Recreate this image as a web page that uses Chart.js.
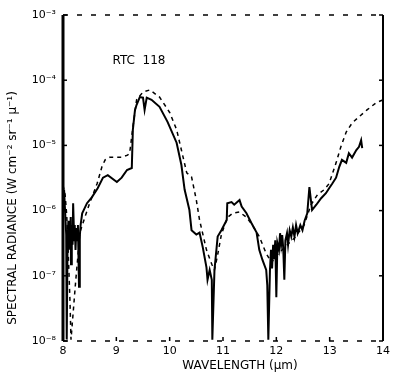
<!DOCTYPE html>
<html>
<head>
<meta charset="utf-8">
<script src="https://cdn.jsdelivr.net/npm/chart.js@4.4.0/dist/chart.umd.min.js"></script>
<style>
    html, body { margin: 0; padding: 0; background: #fff; }
    #wrap { width: 394px; height: 378px; }
</style>
</head>
<body>
<div id="wrap"><canvas id="chart" width="394" height="378"></canvas></div>
<script>
// --- DATOS ---
const solidWavelength = [8.02, 8.06, 8.07, 8.085, 8.10, 8.11, 8.12, 8.13, 8.145, 8.15, 8.165, 8.18, 8.19, 8.21, 8.22, 8.235, 8.25, 8.27, 8.28, 8.30, 8.315, 8.33, 8.36,
    8.45, 8.54, 8.65, 8.75, 8.84,
    9.01, 9.10, 9.20, 9.29, 9.31, 9.35, 9.38, 9.44, 9.50, 9.53, 9.57, 9.66, 9.81, 9.96,
    10.13, 10.22, 10.28, 10.37, 10.41, 10.50, 10.56, 10.62, 10.69, 10.71, 10.75, 10.79, 10.80, 10.84, 10.90, 10.97,
    11.07, 11.08, 11.16, 11.21, 11.31, 11.35, 11.44, 11.53, 11.63, 11.68, 11.74, 11.81, 11.83, 11.85, 11.88, 11.90, 11.92, 11.94, 11.96, 11.98,
    12.00, 12.02, 12.05, 12.07, 12.09, 12.11, 12.13, 12.15, 12.17, 12.20, 12.22, 12.25, 12.28, 12.31, 12.34, 12.37, 12.40, 12.45, 12.49, 12.53, 12.58,
    12.62, 12.67, 12.75, 12.84, 12.93, 12.99,
    13.05, 13.12, 13.18, 13.23, 13.31, 13.36, 13.42, 13.50, 13.55, 13.59, 13.61];
const solidRadiance = [2.1e-6, 4.3e-7, 1.05e-8, 3.0e-7, 7.0e-7, 2.5e-7, 6.5e-7, 3.0e-7, 8.0e-7, 1.5e-7, 6.0e-7, 3.0e-7, 1.3e-6, 3.5e-7, 6.0e-7, 2.5e-7, 5.4e-7, 3.5e-7, 6.0e-7, 6.8e-8, 4.0e-7, 6.0e-7, 9.1e-7,
    1.3e-6, 1.6e-6, 2.2e-6, 3.2e-6, 3.5e-6,
    2.75e-6, 3.2e-6, 4.2e-6, 4.5e-6, 1.75e-5, 3.5e-5, 4.2e-5, 5.5e-5, 5.4e-5, 3.5e-5, 5.4e-5, 5.0e-5, 3.9e-5, 2.3e-5,
    1.1e-5, 5.0e-6, 2.1e-6, 1.02e-6, 5.0e-7, 4.3e-7, 4.6e-7, 2.75e-7, 1.35e-7, 8.7e-8, 1.23e-7, 8.7e-8, 1.05e-8, 1.23e-7, 4.0e-7, 5.0e-7,
    7.2e-7, 1.3e-6, 1.35e-6, 1.23e-6, 1.45e-6, 1.15e-6, 9.1e-7, 6.5e-7, 4.6e-7, 2.5e-7, 1.75e-7, 1.23e-7, 7.2e-8, 1.05e-8, 1.2e-7, 2.5e-7, 1.3e-7, 3.0e-7, 1.8e-7, 3.5e-7,
    4.7e-8, 3.2e-7, 2.5e-7, 4.5e-7, 3.0e-7, 4.2e-7, 2.6e-7, 8.7e-8, 3.5e-7, 4.5e-7, 3.0e-7, 5.0e-7, 4.0e-7, 5.5e-7, 4.0e-7, 6.0e-7, 4.5e-7, 6.0e-7, 5.0e-7, 7.0e-7, 9.1e-7,
    2.3e-6, 1.02e-6, 1.23e-6, 1.55e-6, 1.85e-6, 2.2e-6,
    2.6e-6, 3.2e-6, 4.7e-6, 6.0e-6, 5.4e-6, 7.6e-6, 6.5e-6, 8.5e-6, 9.5e-6, 1.2e-5, 9.1e-6];

const dashedWavelength = [8.00, 8.04, 8.07, 8.09, 8.13, 8.15, 8.24, 8.32, 8.41, 8.50, 8.64, 8.73, 8.79, 8.88,
    9.10, 9.21, 9.25, 9.31, 9.38, 9.50, 9.63, 9.81, 10.00, 10.13, 10.22, 10.32, 10.41, 10.50, 10.56, 10.69, 10.79, 10.84, 10.90, 10.97,
    11.08, 11.18, 11.31, 11.44, 11.55, 11.68, 11.81, 11.91, 12.02, 12.15, 12.34, 12.52, 12.65, 12.77, 12.90, 12.99,
    13.12, 13.21, 13.31, 13.42, 13.55, 13.70, 13.87, 14.00];
const dashedRadiance = [2.45e-6, 1.75e-6, 8.5e-7, 3.5e-7, 4.3e-8, 1.05e-8, 8.7e-8, 4.7e-7, 7.9e-7, 1.3e-6, 2.6e-6, 4.7e-6, 6.0e-6, 6.6e-6,
    6.6e-6, 7.1e-6, 7.6e-6, 1.9e-5, 5.0e-5, 6.6e-5, 7.1e-5, 5.5e-5, 3.2e-5, 1.75e-5, 8.5e-6, 3.8e-6, 3.3e-6, 1.45e-6, 7.2e-7, 2.5e-7, 1.5e-7, 1.23e-7, 2.1e-7, 4.3e-7,
    7.8e-7, 9.1e-7, 9.5e-7, 7.9e-7, 6.0e-7, 4.0e-7, 2.2e-7, 1.6e-7, 2.1e-7, 2.7e-7, 3.8e-7, 6.0e-7, 1.23e-6, 1.75e-6, 2.1e-6, 2.6e-6,
    5.4e-6, 9.5e-6, 1.6e-5, 2.2e-5, 2.75e-5, 3.5e-5, 4.5e-5, 5.0e-5];

const xTickValues = [8, 9, 10, 11, 12, 13, 14];
const yTickValues = [1e-8, 1e-7, 1e-6, 1e-5, 1e-4, 1e-3];
const yTickLabels = ['10\u207B\u2078', '10\u207B\u2077', '10\u207B\u2076', '10\u207B\u2075', '10\u207B\u2074', '10\u207B\u00B3'];
const plotLabel = 'RTC  118';
const xTitle = 'WAVELENGTH (\u03BCm)';
const yTitle = 'SPECTRAL RADIANCE (W cm\u207B\u00B2 sr\u207B\u00B9 \u03BC\u207B\u00B9)';

const FONT = '"DejaVu Sans", "Liberation Sans", sans-serif';

function toPoints(xs, ys) {
    return xs.map((x, i) => ({ x: x, y: ys[i] }));
}

// marco, marcas y textos sueltos
const framePlugin = {
    id: 'frame',
    afterDraw(chart) {
        const ctx = chart.ctx;
        const a = chart.chartArea;
        const yScale = chart.scales.y;
        const xScale = chart.scales.x;
        ctx.save();
        ctx.strokeStyle = '#000';
        // eje izquierdo grueso
        ctx.lineWidth = 3;
        ctx.beginPath(); ctx.moveTo(a.left, a.top); ctx.lineTo(a.left, a.bottom); ctx.stroke();
        // eje derecho
        ctx.lineWidth = 2;
        ctx.beginPath(); ctx.moveTo(a.right, a.top); ctx.lineTo(a.right, a.bottom); ctx.stroke();
        // bordes superior e inferior, punteados como en el escaneo
        ctx.lineWidth = 1.5;
        ctx.setLineDash([5, 9]);
        ctx.beginPath(); ctx.moveTo(a.left, a.top); ctx.lineTo(a.right, a.top); ctx.stroke();
        ctx.beginPath(); ctx.moveTo(a.left, a.bottom); ctx.lineTo(a.right, a.bottom); ctx.stroke();
        ctx.setLineDash([]);
        // marcas interiores
        ctx.lineWidth = 1.5;
        yTickValues.forEach(v => {
            const py = yScale.getPixelForValue(v);
            ctx.beginPath(); ctx.moveTo(a.left, py); ctx.lineTo(a.left + 4, py); ctx.stroke();
            ctx.beginPath(); ctx.moveTo(a.right, py); ctx.lineTo(a.right - 4, py); ctx.stroke();
        });
        xTickValues.forEach(v => {
            const px = xScale.getPixelForValue(v);
            ctx.beginPath(); ctx.moveTo(px, a.bottom); ctx.lineTo(px, a.bottom - 4); ctx.stroke();
        });
        // textos
        ctx.fillStyle = '#000';
        ctx.textAlign = 'center';
        ctx.textBaseline = 'middle';
        ctx.font = '12px ' + FONT;
        ctx.fillText(xTitle, 240, 366);
        ctx.fillText(plotLabel, 139, 61);
        ctx.translate(13, 208);
        ctx.rotate(-Math.PI / 2);
        ctx.fillText(yTitle, 0, 0);
        ctx.restore();
    }
};

new Chart(document.getElementById('chart'), {
    type: 'scatter',
    data: {
        datasets: [
            {
                label: 'solid',
                data: toPoints(solidWavelength, solidRadiance),
                showLine: true,
                borderColor: '#000',
                borderWidth: 2,
                pointRadius: 0,
                tension: 0
            },
            {
                label: 'dashed',
                data: toPoints(dashedWavelength, dashedRadiance),
                showLine: true,
                borderColor: '#000',
                borderWidth: 1.5,
                borderDash: [4, 4],
                pointRadius: 0,
                tension: 0
            }
        ]
    },
    options: {
        responsive: false,
        animation: false,
        layout: { padding: { top: 15, right: 10, left: 0, bottom: 0 } },
        plugins: {
            legend: { display: false },
            tooltip: { enabled: false }
        },
        scales: {
            x: {
                type: 'linear',
                min: 8,
                max: 14,
                afterBuildTicks: s => { s.ticks = xTickValues.map(v => ({ value: v })); },
                afterFit: s => { s.height = 37; },
                grid: { display: false, drawTicks: false },
                border: { display: false },
                ticks: { color: '#000', padding: 4, font: { family: FONT, size: 11 }, maxRotation: 0 }
            },
            y: {
                type: 'logarithmic',
                min: 1e-8,
                max: 1e-3,
                afterBuildTicks: s => { s.ticks = yTickValues.map(v => ({ value: v })); },
                afterFit: s => { s.width = 63; },
                grid: { display: false, drawTicks: false },
                border: { display: false },
                ticks: {
                    color: '#000',
                    padding: 7,
                    font: { family: FONT, size: 11 },
                    callback: (v) => {
                        const i = yTickValues.findIndex(t => Math.abs(Math.log10(t) - Math.log10(v)) < 1e-6);
                        return i >= 0 ? yTickLabels[i] : '';
                    }
                }
            }
        }
    },
    plugins: [framePlugin]
});
</script>
</body>
</html>
